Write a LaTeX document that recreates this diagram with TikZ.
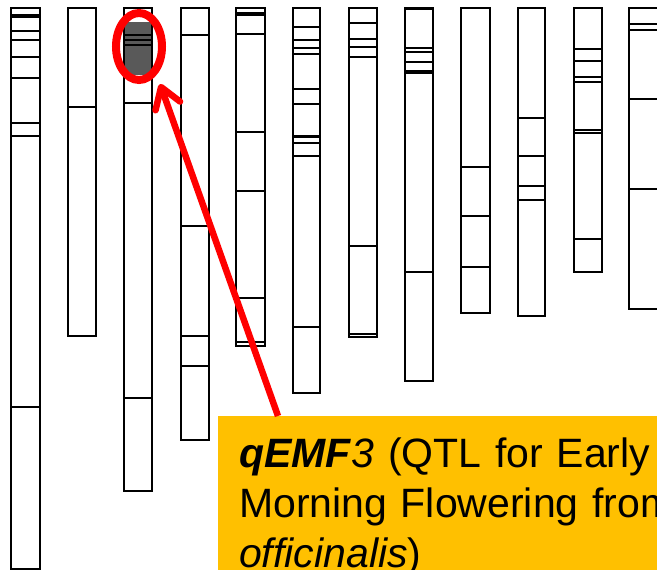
\documentclass[tikz,border=0pt]{standalone}
\usepackage{fontspec}
\setmainfont{Liberation Sans}
\usetikzlibrary{arrows.meta,shapes.geometric,calc}
\definecolor{boxyellow}{HTML}{FFC000}
\definecolor{qtlgray}{HTML}{595959}
\definecolor{arrowred}{HTML}{FF0000}
\newcommand{\chromosome}[4]{%
  \draw[chrom] (#1,8) rectangle (#2,#3);
  \foreach \yb in {#4} {\draw[band] (#1,\yb) -- (#2,\yb);}%
}
\begin{document}
\begin{tikzpicture}[x=1pt,y=-1pt,
  chrom/.style={draw=black,line width=1.2pt},
  band/.style={draw=black,line width=1.1pt},
  qtlring/.style={draw=arrowred,line width=8pt,ellipse,minimum width=46pt,minimum height=67pt,inner sep=0pt},
  labelbox/.style={fill=boxyellow,anchor=north west,inner xsep=21pt,inner ysep=0pt,text width=520pt,align=left,font=\fontsize{41}{50}\selectfont},
  pointer/.style={draw=arrowred,line width=6.5pt,-{Straight Barb[length=20pt,width=26pt,round]}}]
\useasboundingbox (0,0) rectangle (657,570);
\clip (0,0) rectangle (657,570);
% QTL region shading on chromosome 3
\fill[qtlgray] (124,22) rectangle (152,75);
% chromosomes
\chromosome{11}{40}{569}{15,17,31,40,57,78,123,136,407}
\chromosome{68}{96}{336}{107}
\chromosome{124}{152}{491}{35,40,45,103,398}
\chromosome{181}{209}{440}{35,226,336,366}
\chromosome{236}{265}{346}{13,15,34,132,191,298,342}
\chromosome{293}{320}{393}{27,40,48,54,89,104,135.5,137,143,156,327}
\chromosome{349}{377}{337}{23,39,47,57,246,334}
\chromosome{405}{433}{381}{9.5,48,52,62,71,73,272}
\chromosome{461}{490}{313}{167,216,267}
\chromosome{518}{545}{316}{118,156,186,200}
\chromosome{574}{602}{272}{49,61,77,82,130,133,239}
\chromosome{629}{659}{309}{24,30,99,189}
% highlight ring
\node[qtlring] (qtl) at (139,46.5) {};
\coordinate (tip) at (160,84);
% label box
\node[labelbox] (label) at (218,416) {\rule{0pt}{51pt}\textbf{\textit{qEMF}}\textit{3} (QTL for Early\\Morning Flowering from\\\textit{officinalis})\rule[-30pt]{0pt}{30pt}};
% pointer
\draw[pointer] ($(label.north west)+(60,0)$) -- (tip);
\end{tikzpicture}
\end{document}
